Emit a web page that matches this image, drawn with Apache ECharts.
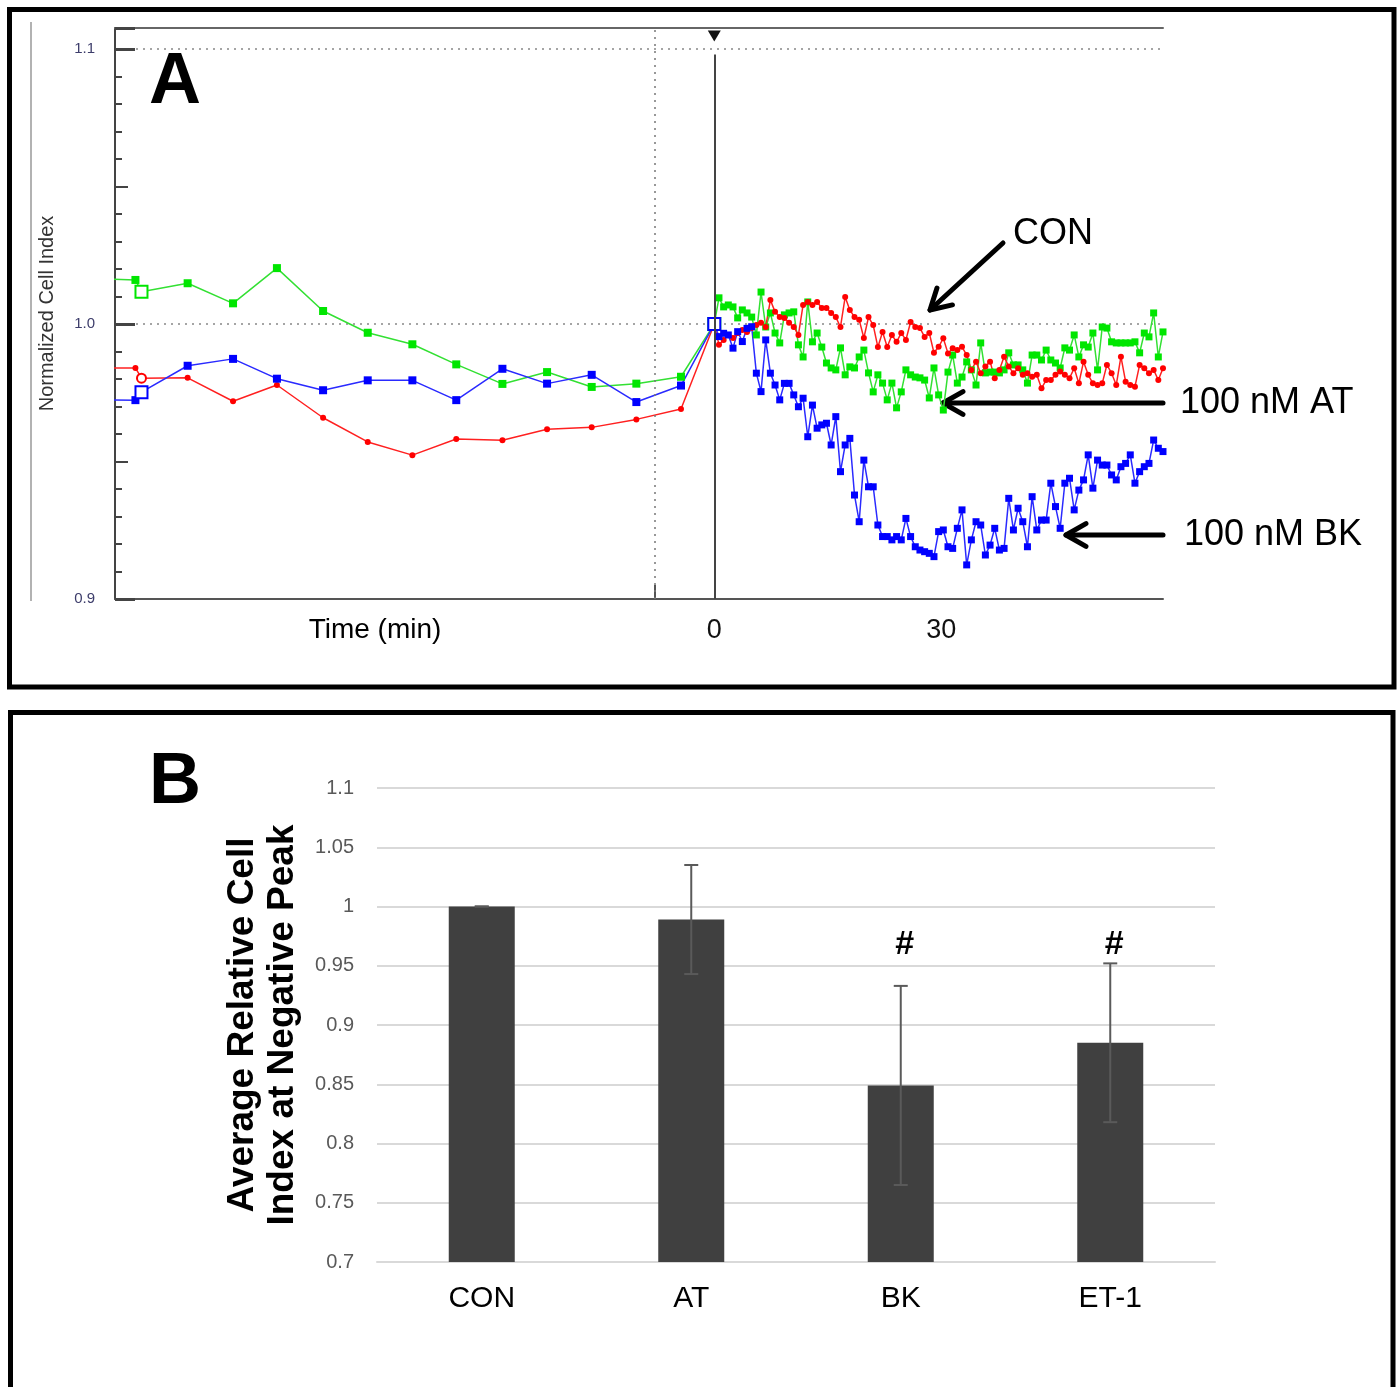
<!DOCTYPE html>
<html>
<head>
<meta charset="utf-8">
<title>Cell index response</title>
<script src="https://cdn.jsdelivr.net/npm/echarts@6/dist/echarts.min.js"></script>
<style>
    html, body { margin: 0; padding: 0; background: #fff; }
    #main { width: 1400px; height: 1387px; }
</style>
</head>
<body>
<div id="main"></div>
<script>
// ---- panel A : normalized cell index traces ----
// times before agonist (min); index 2 is the normalization marker
var preTimes = [-82, -76.5, -75.7, -69.6, -63.6, -57.8, -51.7, -45.8, -39.9, -34.1, -28.0, -22.1, -16.2, -10.3, -4.4];
var refIndex = 2;
var conPre = [0.984, 0.984, 0.9803, 0.9804, 0.9719, 0.9778, 0.9659, 0.9571, 0.9523, 0.9582, 0.9577, 0.9617, 0.9624, 0.9653, 0.9691];
var atPre = [1.0165, 1.016, 1.0117, 1.0148, 1.0075, 1.0203, 1.0047, 0.9968, 0.9926, 0.9853, 0.9782, 0.9825, 0.9771, 0.9783, 0.9808];
var bkPre = [0.9724, 0.9723, 0.9752, 0.9848, 0.9873, 0.9801, 0.9759, 0.9795, 0.9795, 0.9723, 0.9837, 0.9783, 0.9815, 0.9716, 0.9776];

// after agonist, one reading every postStep minutes starting at 0
var postStep = 0.6177;
var conPost = [1.000, 0.9924, 0.9942, 0.9960, 0.9949, 0.9967, 0.9978, 0.9971, 0.9985, 0.9996,
    1.0004, 0.9989, 1.0087, 1.0044, 1.0025, 1.0022, 1.0004, 0.9989, 0.9960, 1.0069,
    1.0080, 1.0069, 1.0080, 1.0058, 1.0058, 1.0040, 1.0025, 0.9989, 1.0098, 1.0051,
    1.0025, 1.0015, 0.9949, 1.0025, 0.9996, 0.9916, 0.9971, 0.9916, 0.9960, 0.9935,
    0.9967, 0.9942, 1.0007, 0.9989, 0.9985, 0.9953, 0.9967, 0.9895, 0.9917, 0.9948,
    0.9893, 0.9912, 0.9905, 0.9917, 0.9887, 0.9833, 0.9863, 0.9821, 0.9845, 0.9863,
    0.9803, 0.9833, 0.9881, 0.9845, 0.9821, 0.9839, 0.9815, 0.9821, 0.9808, 0.9815,
    0.9766, 0.9796, 0.9796, 0.9815, 0.9827, 0.9815, 0.9803, 0.9839, 0.9784, 0.9863,
    0.9815, 0.9784, 0.9778, 0.9784, 0.9851, 0.9821, 0.9778, 0.9881, 0.9790, 0.9778,
    0.9772, 0.9851, 0.9839, 0.9821, 0.9833, 0.9796, 0.9839];
var atPost = [1.000, 1.0095, 1.0062, 1.0069, 1.0062, 1.0022, 1.0051, 1.0040, 1.0025, 0.9960,
    1.0116, 0.9989, 1.0040, 0.9967, 0.9931, 1.0033, 1.0040, 1.0044, 0.9924, 0.9880,
    1.0080, 0.9935, 0.9967, 0.9916, 0.9858, 0.9840, 0.9833, 0.9913, 0.9815, 0.9844,
    0.9840, 0.9880, 0.9905, 0.9822, 0.9753, 0.9815, 0.9785, 0.9724, 0.9785, 0.9695,
    0.9753, 0.9833, 0.9815, 0.9807, 0.9804, 0.9796, 0.9731, 0.9840, 0.9742, 0.9687,
    0.9825, 0.9887, 0.9785, 0.9807, 0.9862, 0.9833, 0.9778, 0.9931, 0.9822, 0.9825,
    0.9825, 0.9822, 0.9833, 0.9895, 0.9851, 0.9851, 0.9833, 0.9785, 0.9887, 0.9887,
    0.9869, 0.9905, 0.9869, 0.9858, 0.9840, 0.9913, 0.9905, 0.9960, 0.9880, 0.9924,
    0.9916, 0.9967, 0.9833, 0.9989, 0.9985, 0.9935, 0.9931, 0.9931, 0.9931, 0.9931,
    0.9935, 0.9895, 0.9967, 0.9953, 1.0040, 0.9880, 0.9971];
var bkPost = [1.000, 0.9954, 0.9966, 0.9960, 0.9912, 0.9972, 0.9936, 0.9984, 0.9990, 0.9821,
    0.9754, 0.9942, 0.9821, 0.9778, 0.9724, 0.9784, 0.9784, 0.9742, 0.9699, 0.9730,
    0.9590, 0.9705, 0.9621, 0.9633, 0.9639, 0.9560, 0.9663, 0.9463, 0.9560, 0.9584,
    0.9378, 0.9281, 0.9505, 0.9408, 0.9408, 0.9269, 0.9227, 0.9227, 0.9215, 0.9227,
    0.9215, 0.9293, 0.9227, 0.9190, 0.9178, 0.9172, 0.9166, 0.9154, 0.9245, 0.9251,
    0.9190, 0.9184, 0.9257, 0.9324, 0.9124, 0.9215, 0.9281, 0.9269, 0.9160, 0.9196,
    0.9257, 0.9178, 0.9184, 0.9366, 0.9251, 0.9330, 0.9281, 0.9190, 0.9372, 0.9251,
    0.9287, 0.9287, 0.9421, 0.9336, 0.9257, 0.9421, 0.9439, 0.9324, 0.9396, 0.9433,
    0.9524, 0.9403, 0.9505, 0.9487, 0.9487, 0.9451, 0.9433, 0.9481, 0.9493, 0.9524,
    0.9421, 0.9463, 0.9481, 0.9493, 0.9578, 0.9548, 0.9536];

var timeTicks = [0, 30];
var washTime = -7.9;

// ---- panel B : average relative cell index at negative peak ----
var groups = ['CON', 'AT', 'BK', 'ET-1'];
var peakMeans = [1.0, 0.989, 0.849, 0.885];
var peakErrs = [0, 0.046, 0.084, 0.067];
var sigMarks = ['', '', '#', '#'];
var sigLevel = 0.968;

var FONT = '"Liberation Sans", Arial, sans-serif';

var postTimes = [];
for (var k = 0; k < conPost.length; k++) {
    postTimes.push(+(k * postStep).toFixed(3));
}

function traceData(pre, post, openSymbol, openSize) {
    var data = [];
    pre.forEach(function(v, i) {
        if (i === refIndex) {
            data.push({value: [preTimes[i], v], symbol: openSymbol, symbolSize: openSize});
        } else {
            data.push([preTimes[i], v]);
        }
    });
    post.forEach(function(v, j) {
        if (j === 0) {
            data.push({value: [postTimes[j], v], symbol: openSymbol, symbolSize: openSize});
        } else {
            data.push([postTimes[j], v]);
        }
    });
    return data;
}

function markSize(val, params) {
    return params.dataIndex < preTimes.length ? 8 : 7;
}

// arrow: shaft from tail to tip, open chevron head at tip
function arrow(tip, tail) {
    var ang = Math.atan2(tail[1] - tip[1], tail[0] - tip[0]);
    var len = 23, spread = 0.52;
    var a1 = [tip[0] + len * Math.cos(ang + spread), tip[1] + len * Math.sin(ang + spread)];
    var a2 = [tip[0] + len * Math.cos(ang - spread), tip[1] + len * Math.sin(ang - spread)];
    var st = {stroke: '#000', lineWidth: 5, lineCap: 'round', lineJoin: 'round', fill: null};
    return [
        {type: 'polyline', shape: {points: [tail, tip]}, style: st},
        {type: 'polyline', shape: {points: [a1, tip, a2]}, style: st}
    ];
}

function label(text, x, y, size, opts) {
    opts = opts || {};
    return {
        type: 'text', x: x, y: y, rotation: opts.rotation || 0, z: 10,
        style: {
            text: text,
            font: (opts.bold ? 'bold ' : '') + size + 'px ' + FONT,
            fill: '#000',
            align: opts.align || 'center',
            verticalAlign: 'middle',
            lineHeight: opts.lineHeight
        }
    };
}

// extra tick-only axes for panel A (left side, no line, no labels)
function tickAxis(interval, len) {
    return {
        type: 'value', gridIndex: 0, min: 0.9, max: yMaxA, interval: interval, position: 'left',
        axisLine: {show: false, onZero: false}, axisLabel: {show: false}, splitLine: {show: false},
        axisTick: {inside: true, length: len, lineStyle: {color: '#444', width: 2}}
    };
}

var chart = echarts.init(document.getElementById('main'));

var graphics = [
    {type: 'rect', shape: {x: 9.5, y: 9.5, width: 1384.5, height: 677.5}, style: {fill: null, stroke: '#000', lineWidth: 5}},
    {type: 'rect', shape: {x: 10.5, y: 712.5, width: 1382.5, height: 720}, style: {fill: null, stroke: '#000', lineWidth: 5}},
    {type: 'line', shape: {x1: 31, y1: 22, x2: 31, y2: 601}, style: {stroke: '#999', lineWidth: 1.5}},
    label('A', 175, 83, 72, {bold: true}),
    label('B', 175, 783, 72, {bold: true}),
    label('Time (min)', 375, 630, 28),
    label('CON', 1013, 234, 36, {align: 'left'}),
    label('100 nM AT', 1180, 403, 36, {align: 'left'}),
    label('100 nM BK', 1184, 535, 36, {align: 'left'}),
    label('Average Relative Cell\nIndex at Negative Peak', 263, 1025, 37, {bold: true, rotation: Math.PI / 2, lineHeight: 40})
].concat(arrow([930, 310], [1003, 243]))
 .concat(arrow([943, 403], [1163, 403]))
 .concat(arrow([1066, 535], [1163, 535]));

var yMaxA = 1.1076;

chart.setOption({
    animation: false,
    grid: [
        {left: 115, top: 28, width: 1048, height: 571},
        {left: 377, top: 788, width: 838, height: 474}
    ],
    xAxis: [
        {
            type: 'value', gridIndex: 0, min: -79.2, max: 59.3, position: 'bottom',
            axisLine: {onZero: false, lineStyle: {color: '#555', width: 2}},
            axisTick: {show: true, inside: true, length: 14, customValues: [washTime], lineStyle: {color: '#555', width: 2}},
            axisLabel: {customValues: timeTicks, fontSize: 27, color: '#111', margin: 18, fontFamily: FONT},
            splitLine: {show: false}
        },
        {
            type: 'value', gridIndex: 0, min: -79.2, max: 59.3, position: 'top',
            axisLine: {show: true, onZero: false, lineStyle: {color: '#666', width: 2}},
            axisTick: {show: false}, axisLabel: {show: false}, splitLine: {show: false}
        },
        {
            type: 'category', gridIndex: 1, data: groups,
            axisLine: {lineStyle: {color: '#d9d9d9', width: 2}},
            axisTick: {show: false},
            axisLabel: {fontSize: 30, color: '#000', margin: 22, fontFamily: FONT}
        }
    ],
    yAxis: [
        {
            type: 'value', gridIndex: 0, min: 0.9, max: yMaxA, interval: 0.1, position: 'left',
            name: 'Normalized Cell Index', nameLocation: 'middle', nameRotate: 90, nameGap: 58,
            nameTextStyle: {fontSize: 20, color: '#333', fontFamily: FONT},
            axisLine: {show: true, onZero: false, lineStyle: {color: '#444', width: 2}},
            axisTick: {inside: true, length: 20, lineStyle: {color: '#444', width: 3}},
            axisLabel: {
                fontSize: 15, color: '#3d3d6b', margin: 20, fontFamily: FONT,
                formatter: function(v) { return v > 1.105 ? '' : v.toFixed(1); }
            },
            splitLine: {show: true, lineStyle: {color: '#888', type: [2, 5], width: 1.5}}
        },
        tickAxis(0.05, 13),
        tickAxis(0.01, 7),
        {
            type: 'value', gridIndex: 1, min: 0.7, max: 1.1, interval: 0.05,
            axisLine: {show: false}, axisTick: {show: false},
            axisLabel: {fontSize: 20, color: '#595959', margin: 23, fontFamily: FONT},
            splitLine: {lineStyle: {color: '#d9d9d9', width: 2}}
        }
    ],
    series: [
        {
            name: '100 nM AT', type: 'line', xAxisIndex: 0, yAxisIndex: 0,
            data: traceData(atPre, atPost, 'emptyRect', 12),
            symbol: 'rect', symbolSize: markSize,
            lineStyle: {color: '#33e033', width: 1.5},
            itemStyle: {color: '#00e600', borderWidth: 1.5},
            markLine: {
                silent: true, symbol: 'none', label: {show: false},
                lineStyle: {color: '#777', type: [2, 5], width: 1.5},
                data: [{xAxis: washTime}]
            }
        },
        {
            name: 'CON', type: 'line', xAxisIndex: 0, yAxisIndex: 0,
            data: traceData(conPre, conPost, 'emptyCircle', 9),
            symbol: 'circle', symbolSize: 6,
            lineStyle: {color: '#ff2020', width: 1.5},
            itemStyle: {color: '#ff0000', borderWidth: 1.5},
            markLine: {
                silent: true, symbol: 'none', label: {show: false},
                lineStyle: {color: '#444', type: 'solid', width: 2},
                data: [[{coord: [0, 0.9]}, {coord: [0, 1.098]}]]
            }
        },
        {
            name: '100 nM BK', type: 'line', xAxisIndex: 0, yAxisIndex: 0,
            data: traceData(bkPre, bkPost, 'emptyRect', 12),
            symbol: 'rect', symbolSize: markSize,
            lineStyle: {color: '#2a2aff', width: 1.5},
            itemStyle: {color: '#0000ff', borderWidth: 1.5},
            markPoint: {
                silent: true, symbol: 'triangle', symbolRotate: 180, symbolSize: [13, 11],
                itemStyle: {color: '#111'}, label: {show: false},
                data: [{coord: [0, 1.1047]}]
            }
        },
        {
            type: 'bar', xAxisIndex: 2, yAxisIndex: 3,
            data: peakMeans, barWidth: 66,
            itemStyle: {color: '#404040'}
        },
        {
            type: 'custom', xAxisIndex: 2, yAxisIndex: 3, z: 5,
            data: groups.map(function(g, i) { return [i, peakMeans[i], peakErrs[i]]; }),
            renderItem: function(params, api) {
                var i = api.value(0), m = api.value(1), e = api.value(2);
                var top = api.coord([i, m + e]);
                var bot = api.coord([i, m - e]);
                var hw = 7;
                var st = {stroke: '#5a5a5a', lineWidth: 2};
                var kids = [
                    {type: 'line', shape: {x1: top[0], y1: top[1], x2: bot[0], y2: bot[1]}, style: st},
                    {type: 'line', shape: {x1: top[0] - hw, y1: top[1], x2: top[0] + hw, y2: top[1]}, style: st},
                    {type: 'line', shape: {x1: bot[0] - hw, y1: bot[1], x2: bot[0] + hw, y2: bot[1]}, style: st}
                ];
                if (sigMarks[i]) {
                    var p = api.coord([i, sigLevel]);
                    kids.push({
                        type: 'text', x: p[0] + 4, y: p[1],
                        style: {text: sigMarks[i], font: 'bold 34px ' + FONT, fill: '#000', align: 'center', verticalAlign: 'middle'}
                    });
                }
                return {type: 'group', children: kids};
            }
        }
    ],
    graphic: graphics
});
</script>
</body>
</html>
